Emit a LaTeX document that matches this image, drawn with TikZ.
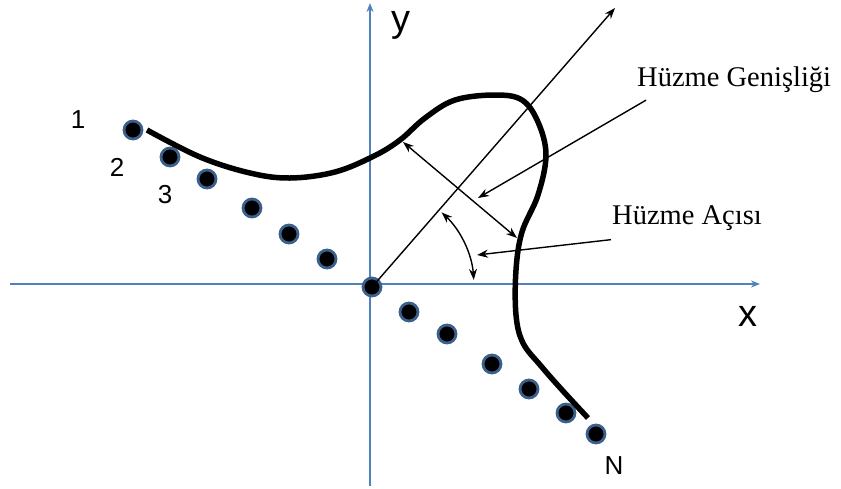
\documentclass[tikz,border=0pt]{standalone}
\usepackage{fontspec}
\setmainfont{Liberation Serif}
\setsansfont{Liberation Sans}
\usetikzlibrary{arrows.meta}
\definecolor{axisblue}{RGB}{79,129,189}
\definecolor{ringblue}{RGB}{60,96,140}
\begin{document}
\begin{tikzpicture}[x=1pt, y=-1pt,
    axis/.style={draw=axisblue, line width=2pt, -{Stealth[length=9pt, width=7pt]}},
    element/.style={circle, fill=black, draw=ringblue, line width=2.8pt, minimum size=18pt, inner sep=0pt},
    num/.style={font=\sffamily\fontsize{26}{28}\selectfont, inner sep=1pt},
    axlabel/.style={font=\sffamily\fontsize{38}{40}\selectfont, inner sep=1pt},
    callout/.style={font=\rmfamily\fontsize{28.5}{31}\selectfont, inner sep=1pt},
    beam/.style={line width=5.5pt, line cap=butt},
    thinarrow/.style={line width=1.4pt, -{Stealth[length=11pt, width=8pt]}},
    twoway/.style={line width=1.4pt, {Stealth[length=11pt, width=8pt]}-{Stealth[length=11pt, width=8pt]}}
  ]
    \useasboundingbox (0,0) rectangle (841,488);

    % axes
    \coordinate (xstart) at (10,284);
    \coordinate (xend) at (760,284);
    \coordinate (ystart) at (370,486);
    \coordinate (yend) at (370,3);
    \draw[axis] (xstart) -- (xend);
    \draw[axis] (ystart) -- (yend);
    \node[axlabel] (ylab) at (401,25) {y};
    \node[axlabel] (xlab) at (748,316) {x};

    % array elements
    \foreach \i/\px/\py in {1/133/130, 2/170/157, 3/207/179, 4/252/208, 5/289/234, 6/327/259,
        7/372/287, 8/409/312, 9/447/334, 10/492/364, 11/529/389, 12/566/413, 13/596/434} {
      \node[element] (d\i) at (\px,\py) {};
    }
    \node[num] (n1) at (78,120) {1};
    \node[num] (n2) at (117,167) {2};
    \node[num] (n3) at (165,195) {3};
    \node[num] (nN) at (614,466) {N};

    % beam direction
    \coordinate (dir) at (615,8);
    \draw[thinarrow] (d7.center) -- (dir);

    % beam pattern
    \draw[beam] plot[smooth, tension=0.6] coordinates {
      (147,130) (200,157) (250,173) (290,178) (335,172) (374,156) (400,140)
      (425,118) (455,100) (495,95) (522,100) (538,122) (546,155) (538,195)
      (522,232) (516,270) (516,315) (523,343) (541,366) (563,391) (588,418)};

    % beam width
    \coordinate (w1) at (403,142);
    \coordinate (w2) at (517,238);
    \draw[twoway] (w1) -- (w2);
    \node[callout, anchor=west] (width) at (636,80) {Hüzme Genişliği};
    \coordinate (wtip) at (478,198);
    \draw[thinarrow] (width.south west) ++(10,6) -- (wtip);

    % beam angle
    \draw[twoway] (d7.center) ++(-47:102) arc[start angle=-47, end angle=-4, radius=102];
    \node[callout, anchor=west] (angle) at (611,218) {Hüzme Açısı};
    \coordinate (atip) at (477,255);
    \draw[thinarrow] (angle.south west) ++(0,8) -- (atip);
  \end{tikzpicture}
\end{document}
